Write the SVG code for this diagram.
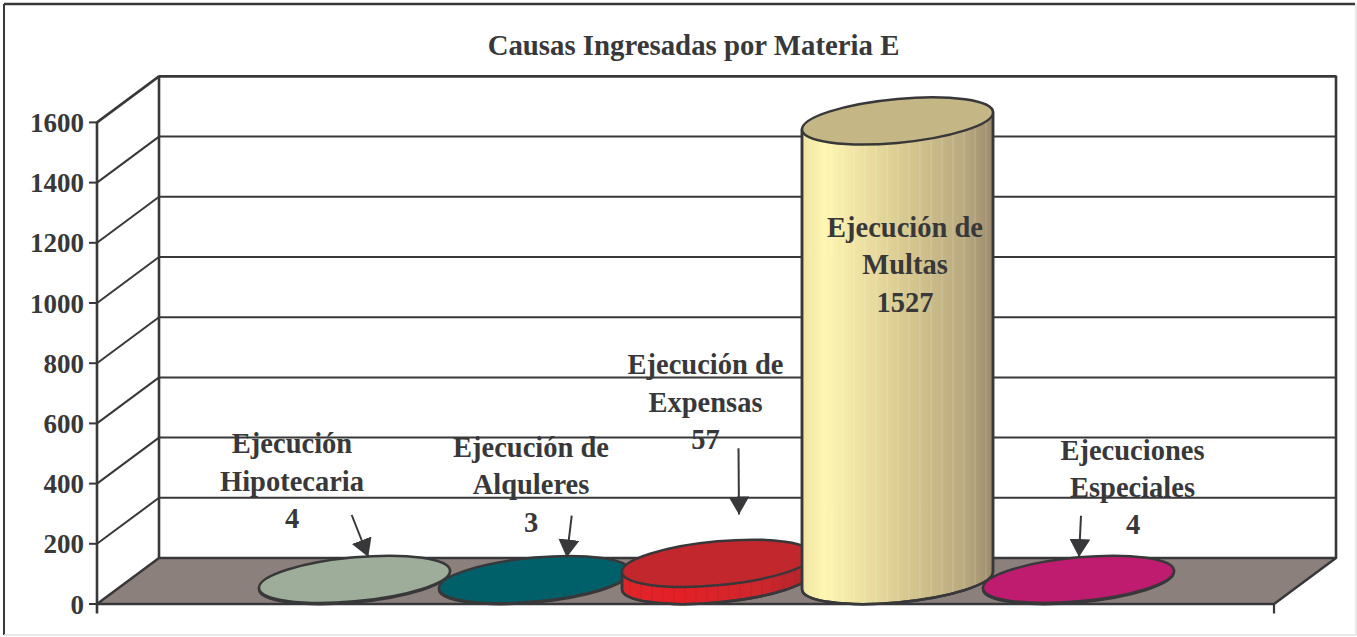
<svg xmlns="http://www.w3.org/2000/svg" width="1357" height="637" viewBox="0 0 1357 637">
<style>
.t{font-family:"Liberation Serif","Times New Roman",serif;font-weight:bold;fill:#38383a;}
.lbl{font-size:28.5px;text-anchor:middle;}
.ax{font-size:27px;text-anchor:end;}
.g{stroke:#38383a;stroke-width:2;fill:none;}
.cyl{stroke:#38383a;stroke-width:2.5;}
.lead{stroke:#38383a;stroke-width:2;fill:none;marker-end:url(#ah);}
</style>
<defs>
<marker id="ah" markerUnits="userSpaceOnUse" markerWidth="20" markerHeight="22" refX="18" refY="10.5" orient="auto" viewBox="0 0 20 22">
<path d="M0,0 L18,10.5 L0,21 Z" fill="#38383a"/>
</marker>
<linearGradient id="yel" x1="-95.5" y1="0" x2="95.5" y2="0" gradientUnits="userSpaceOnUse">
<stop offset="0" stop-color="#efe3a0"/>
<stop offset="0.12" stop-color="#fff6b2"/>
<stop offset="0.5" stop-color="#dccd92"/>
<stop offset="0.85" stop-color="#b9a97f"/>
<stop offset="1" stop-color="#9c8b6b"/>
</linearGradient>
<linearGradient id="red" x1="-95.5" y1="0" x2="95.5" y2="0" gradientUnits="userSpaceOnUse">
<stop offset="0" stop-color="#e0262b"/>
<stop offset="0.3" stop-color="#e41f26"/>
<stop offset="0.7" stop-color="#cf272d"/>
<stop offset="1" stop-color="#b0242b"/>
</linearGradient>
<pattern id="stripe" width="11" height="10" patternUnits="userSpaceOnUse">
<rect x="0" y="0" width="1" height="10" fill="#ffffff" fill-opacity="0.2"/>
</pattern>
<pattern id="stripe-r" width="11" height="10" patternUnits="userSpaceOnUse">
<rect x="0" y="0" width="1" height="10" fill="#8a1a1e" fill-opacity="0.25"/>
</pattern>
</defs>

<g id="frame">
<line x1="4" y1="4" x2="1355" y2="4" stroke="#38383a" stroke-width="2.5"/>
<line x1="4" y1="4" x2="4" y2="635" stroke="#38383a" stroke-width="2"/>
<line x1="1356" y1="4" x2="1356" y2="635" stroke="#e2e2e2" stroke-width="1.5"/>
<line x1="4" y1="635" x2="1356" y2="635" stroke="#e2e2e2" stroke-width="1.5"/>
</g>

<text id="title" class="t" x="693.5" y="55" font-size="28.8" text-anchor="middle">Causas Ingresadas por Materia E</text>

<g id="plot-area">
<polygon id="floor" points="97,604 159,558 1336,558 1274,604" fill="#8c807c" stroke="#38383a" stroke-width="2.5" stroke-linejoin="round"/>
<g id="gridlines" class="g">
<line x1="159" y1="76.4" x2="1336" y2="76.4" stroke-width="2.6"/>
<line x1="159" y1="136.6" x2="1336" y2="136.6"/>
<line x1="159" y1="196.8" x2="1336" y2="196.8"/>
<line x1="159" y1="257" x2="1336" y2="257"/>
<line x1="159" y1="317.2" x2="1336" y2="317.2"/>
<line x1="159" y1="377.4" x2="1336" y2="377.4"/>
<line x1="159" y1="437.6" x2="1336" y2="437.6"/>
<line x1="159" y1="497.8" x2="1336" y2="497.8"/>
<line x1="97" y1="122.4" x2="159" y2="76.4" stroke-width="2.6"/>
<line x1="97" y1="182.6" x2="159" y2="136.6"/>
<line x1="97" y1="242.8" x2="159" y2="196.8"/>
<line x1="97" y1="303" x2="159" y2="257"/>
<line x1="97" y1="363.2" x2="159" y2="317.2"/>
<line x1="97" y1="423.4" x2="159" y2="377.4"/>
<line x1="97" y1="483.6" x2="159" y2="437.6"/>
<line x1="97" y1="543.8" x2="159" y2="497.8"/>
<line x1="159" y1="75.5" x2="159" y2="558" stroke-width="2.6"/>
<line x1="1336" y1="75.5" x2="1336" y2="558" stroke-width="2.6"/>
</g>
<g id="axis" class="g">
<line x1="97" y1="121.5" x2="97" y2="613.5" stroke-width="2.6"/>
<line x1="89" y1="122.4" x2="97" y2="122.4"/>
<line x1="89" y1="182.6" x2="97" y2="182.6"/>
<line x1="89" y1="242.8" x2="97" y2="242.8"/>
<line x1="89" y1="303" x2="97" y2="303"/>
<line x1="89" y1="363.2" x2="97" y2="363.2"/>
<line x1="89" y1="423.4" x2="97" y2="423.4"/>
<line x1="89" y1="483.6" x2="97" y2="483.6"/>
<line x1="89" y1="543.8" x2="97" y2="543.8"/>
<line x1="89" y1="604" x2="97" y2="604"/>
<line x1="1274" y1="604" x2="1274" y2="613.5" stroke-width="2.2"/>
</g>
<g id="axis-labels" class="t ax">
<text x="84" y="132">1600</text>
<text x="84" y="192">1400</text>
<text x="84" y="252">1200</text>
<text x="84" y="312.5">1000</text>
<text x="84" y="372.5">800</text>
<text x="84" y="433">600</text>
<text x="84" y="493">400</text>
<text x="84" y="553">200</text>
<text x="84" y="613.5">0</text>
</g>
</g>

<g id="bar-hipotecaria" transform="translate(354.5,580.5) skewY(-5.1)">
<path class="cyl" d="M-95.5,-1.2 L-95.5,0 A95.5,22 0 0 0 95.5,0 L95.5,-1.2 Z" fill="#8e9c8a"/>
<ellipse class="cyl" cx="0" cy="-1.2" rx="95.5" ry="22" fill="#9eac9a"/>
</g>
<g id="bar-alquileres" transform="translate(534.5,580.5) skewY(-5.1)">
<path class="cyl" d="M-95.5,-0.9 L-95.5,0 A95.5,22 0 0 0 95.5,0 L95.5,-0.9 Z" fill="#00545c"/>
<ellipse class="cyl" cx="0" cy="-0.9" rx="95.5" ry="22" fill="#00606a"/>
</g>
<g id="bar-expensas" transform="translate(717.5,580.5) skewY(-5.1)">
<path class="cyl" d="M-95.5,-17.2 L-95.5,0 A95.5,22 0 0 0 95.5,0 L95.5,-17.2 Z" fill="url(#red)"/>
<path d="M-95.5,-17.2 L-95.5,0 A95.5,22 0 0 0 95.5,0 L95.5,-17.2 Z" fill="url(#stripe-r)"/>
<path d="M-95.5,-17.2 L-95.5,0 A95.5,22 0 0 0 95.5,0 L95.5,-17.2" fill="none" stroke="#38383a" stroke-width="2.5"/>
<ellipse class="cyl" cx="0" cy="-17.2" rx="95.5" ry="22" fill="#c1272d"/>
</g>
<g id="bar-multas" transform="translate(897.5,580.5) skewY(-5.1)">
<path class="cyl" d="M-95.5,-459.6 L-95.5,0 A95.5,22 0 0 0 95.5,0 L95.5,-459.6 Z" fill="url(#yel)"/>
<path d="M-95.5,-459.6 L-95.5,0 A95.5,22 0 0 0 95.5,0 L95.5,-459.6 Z" fill="url(#stripe)"/>
<path d="M-95.5,-459.6 L-95.5,0 A95.5,22 0 0 0 95.5,0 L95.5,-459.6" fill="none" stroke="#38383a" stroke-width="2.5"/>
<ellipse class="cyl" cx="0" cy="-459.6" rx="95.5" ry="22" fill="#c4b685"/>
</g>
<g id="bar-especiales" transform="translate(1078.5,580.5) skewY(-5.1)">
<path class="cyl" d="M-95.5,-1.2 L-95.5,0 A95.5,22 0 0 0 95.5,0 L95.5,-1.2 Z" fill="#a81862"/>
<ellipse class="cyl" cx="0" cy="-1.2" rx="95.5" ry="22" fill="#c01c6f"/>
</g>

<g id="label-hipotecaria" class="t lbl">
<text x="292" y="453">Ejecución</text>
<text x="292" y="491">Hipotecaria</text>
<text x="292" y="528">4</text>
</g>
<g id="label-alquileres" class="t lbl">
<text x="531" y="456.5">Ejecución de</text>
<text x="531" y="494">Alquleres</text>
<text x="531" y="531.5">3</text>
</g>
<g id="label-expensas" class="t lbl">
<text x="705.5" y="374">Ejecución de</text>
<text x="705.5" y="411.5">Expensas</text>
<text x="705.5" y="449">57</text>
</g>
<g id="label-multas" class="t lbl">
<text x="905" y="237">Ejecución de</text>
<text x="905" y="274">Multas</text>
<text x="905" y="311.5">1527</text>
</g>
<g id="label-especiales" class="t lbl">
<text x="1132.5" y="460">Ejecuciones</text>
<text x="1132.5" y="496.5">Especiales</text>
<text x="1133" y="534">4</text>
</g>

<g id="connectors">
<line class="lead" x1="351.7" y1="515" x2="368.3" y2="557"/>
<line class="lead" x1="571.7" y1="515.7" x2="566.7" y2="557.5"/>
<line class="lead" x1="738.5" y1="448.3" x2="739" y2="514.5"/>
<line class="lead" x1="1081" y1="515.7" x2="1079" y2="557"/>
</g>
</svg>
